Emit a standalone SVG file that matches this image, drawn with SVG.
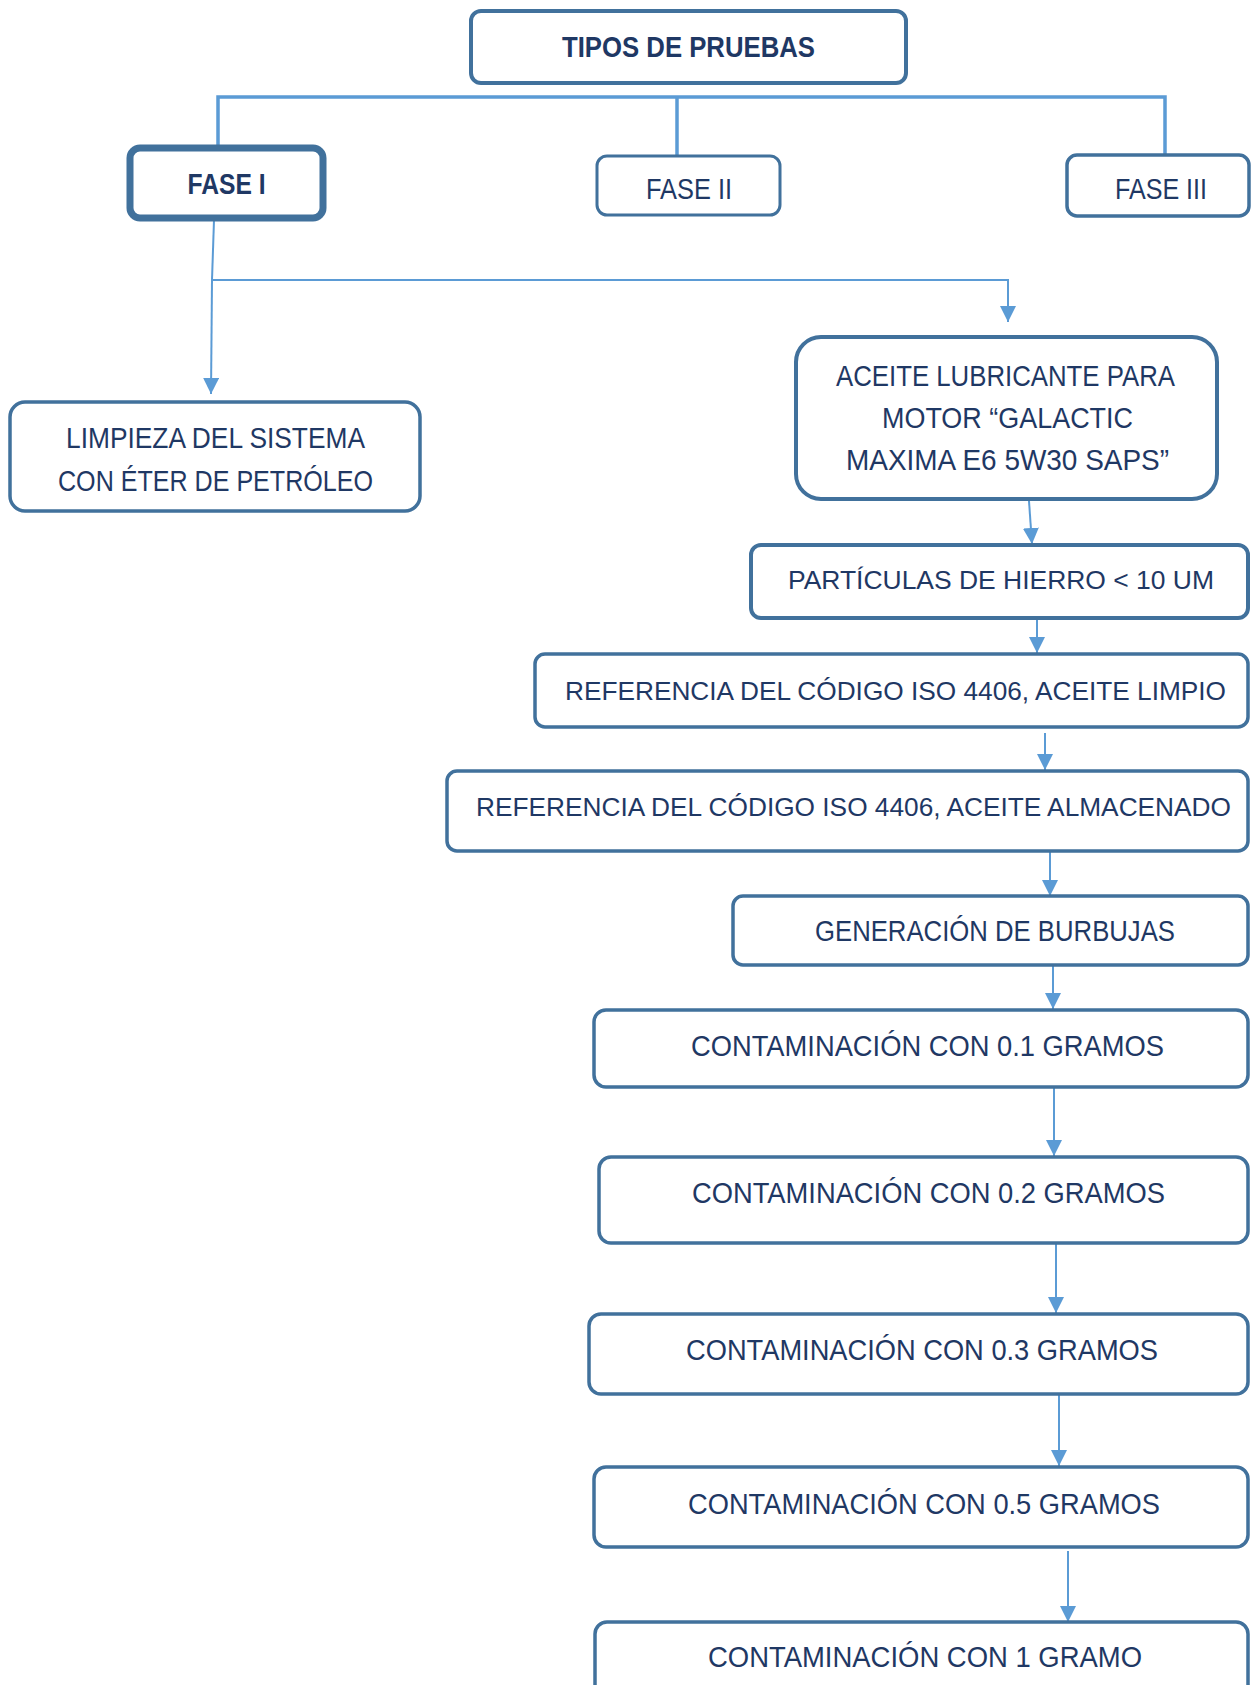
<svg xmlns="http://www.w3.org/2000/svg" width="1251" height="1685" viewBox="0 0 1251 1685">
<defs>
<style>
.box{fill:#ffffff;stroke:#41719c;stroke-width:3.5}
.t{font-family:"Liberation Sans",Arial,sans-serif;font-size:29.5px;fill:#1f3864;text-anchor:middle}
.s{font-size:26px}
.b{font-weight:bold}
.c{fill:none;stroke:#5b9bd5;stroke-width:2}
.bus{fill:none;stroke:#5b9bd5;stroke-width:3.5}
</style>
<marker id="ah" markerUnits="userSpaceOnUse" markerWidth="16" markerHeight="16" refX="15" refY="7.5" orient="auto" viewBox="0 0 15 15">
<path d="M0,0 L15,7.5 L0,15 z" fill="#5b9bd5"/>
</marker>
</defs>
<rect width="1251" height="1685" fill="#ffffff"/>
<g id="connectors">
<polyline class="bus" points="218,157 218,97 1165,97 1165,155"/>
<line class="bus" x1="677" y1="97" x2="677" y2="155"/>
<line class="c" x1="214" y1="220" x2="212" y2="280"/>
<polyline class="c" points="212,280 1008,280 1008,322" marker-end="url(#ah)"/>
<line class="c" x1="212" y1="280" x2="211" y2="394" marker-end="url(#ah)"/>
<line class="c" x1="1029" y1="501" x2="1032" y2="544" marker-end="url(#ah)"/>
<line class="c" x1="1037" y1="619" x2="1037" y2="653" marker-end="url(#ah)"/>
<line class="c" x1="1045" y1="733" x2="1045" y2="770" marker-end="url(#ah)"/>
<line class="c" x1="1050" y1="852" x2="1050" y2="896" marker-end="url(#ah)"/>
<line class="c" x1="1053" y1="966" x2="1053" y2="1009" marker-end="url(#ah)"/>
<line class="c" x1="1054" y1="1088" x2="1054" y2="1156" marker-end="url(#ah)"/>
<line class="c" x1="1056" y1="1244" x2="1056" y2="1313" marker-end="url(#ah)"/>
<line class="c" x1="1059" y1="1395" x2="1059" y2="1466" marker-end="url(#ah)"/>
<line class="c" x1="1068" y1="1551" x2="1068" y2="1622" marker-end="url(#ah)"/>
</g>
<g id="tipos">
<rect class="box" x="471" y="11" width="435" height="72" rx="10" style="stroke-width:4"/>
<text class="t b" x="688.5" y="57" textLength="253" lengthAdjust="spacingAndGlyphs">TIPOS DE PRUEBAS</text>
</g>
<g id="fase1">
<rect class="box" x="130" y="148" width="193" height="70" rx="10" style="stroke-width:7"/>
<text class="t b" x="226.5" y="194" textLength="78" lengthAdjust="spacingAndGlyphs">FASE I</text>
</g>
<g id="fase2">
<rect class="box" x="597" y="156" width="183" height="59" rx="10" style="stroke-width:3"/>
<text class="t" x="689" y="199" textLength="86" lengthAdjust="spacingAndGlyphs">FASE II</text>
</g>
<g id="fase3">
<rect class="box" x="1067" y="155" width="182" height="61" rx="10"/>
<text class="t" x="1161" y="199" textLength="92" lengthAdjust="spacingAndGlyphs">FASE III</text>
</g>
<g id="limpieza">
<rect class="box" x="10" y="402" width="410" height="109" rx="15"/>
<text class="t" x="215.5" y="448" textLength="299" lengthAdjust="spacingAndGlyphs">LIMPIEZA DEL SISTEMA</text>
<text class="t" x="215.5" y="491" textLength="315" lengthAdjust="spacingAndGlyphs">CON ÉTER DE PETRÓLEO</text>
</g>
<g id="aceite">
<rect class="box" x="796" y="337" width="421" height="162" rx="25" style="stroke-width:4"/>
<text class="t" x="1005.5" y="386" textLength="339" lengthAdjust="spacingAndGlyphs">ACEITE LUBRICANTE PARA</text>
<text class="t" x="1007.5" y="428" textLength="251" lengthAdjust="spacingAndGlyphs">MOTOR “GALACTIC</text>
<text class="t" x="1007.5" y="470" textLength="323" lengthAdjust="spacingAndGlyphs">MAXIMA E6 5W30 SAPS”</text>
</g>
<g id="particulas">
<rect class="box" x="751" y="545" width="497" height="73" rx="10" style="stroke-width:4"/>
<text class="t s" x="1001" y="589" textLength="426" lengthAdjust="spacingAndGlyphs">PARTÍCULAS DE HIERRO &lt; 10 UM</text>
</g>
<g id="ref-limpio">
<rect class="box" x="535" y="654" width="713" height="73" rx="10"/>
<text class="t s" x="895.5" y="700" textLength="661" lengthAdjust="spacingAndGlyphs">REFERENCIA DEL CÓDIGO ISO 4406, ACEITE LIMPIO</text>
</g>
<g id="ref-almacenado">
<rect class="box" x="447" y="771" width="801" height="80" rx="10"/>
<text class="t s" x="853.5" y="816" textLength="755" lengthAdjust="spacingAndGlyphs">REFERENCIA DEL CÓDIGO ISO 4406, ACEITE ALMACENADO</text>
</g>
<g id="burbujas">
<rect class="box" x="733" y="896" width="515" height="69" rx="10"/>
<text class="t" x="995" y="941" textLength="360" lengthAdjust="spacingAndGlyphs">GENERACIÓN DE BURBUJAS</text>
</g>
<g id="cont01">
<rect class="box" x="594" y="1010" width="654" height="77" rx="12"/>
<text class="t" x="927.5" y="1056" textLength="473" lengthAdjust="spacingAndGlyphs">CONTAMINACIÓN CON 0.1 GRAMOS</text>
</g>
<g id="cont02">
<rect class="box" x="599" y="1157" width="649" height="86" rx="12"/>
<text class="t" x="928.5" y="1203" textLength="473" lengthAdjust="spacingAndGlyphs">CONTAMINACIÓN CON 0.2 GRAMOS</text>
</g>
<g id="cont03">
<rect class="box" x="589" y="1314" width="659" height="80" rx="12"/>
<text class="t" x="922" y="1360" textLength="472" lengthAdjust="spacingAndGlyphs">CONTAMINACIÓN CON 0.3 GRAMOS</text>
</g>
<g id="cont05">
<rect class="box" x="594" y="1467" width="654" height="80" rx="12"/>
<text class="t" x="924" y="1514" textLength="472" lengthAdjust="spacingAndGlyphs">CONTAMINACIÓN CON 0.5 GRAMOS</text>
</g>
<g id="cont1">
<rect class="box" x="595" y="1622" width="653" height="90" rx="12"/>
<text class="t" x="925" y="1667" textLength="434" lengthAdjust="spacingAndGlyphs">CONTAMINACIÓN CON 1 GRAMO</text>
</g>
</svg>
